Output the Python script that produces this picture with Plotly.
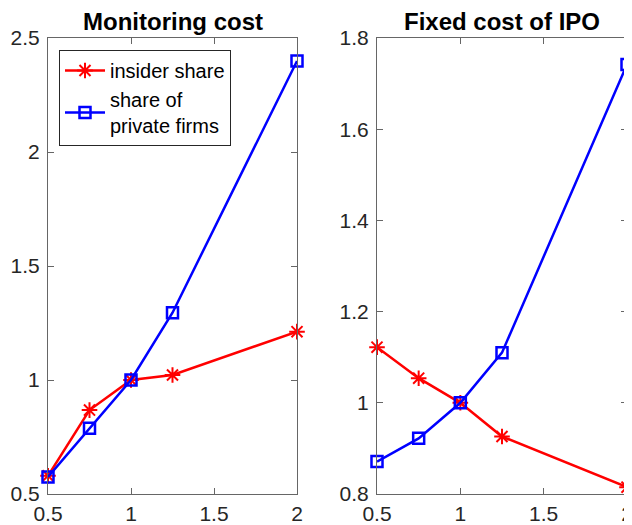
import plotly.graph_objects as go

x_vals = [0.5, 0.75, 1.0, 1.25, 2.0]

mon_insider = [0.58, 0.868, 1.0, 1.022, 1.212]
mon_private = [0.575, 0.788, 1.0, 1.295, 2.399]

ipo_insider = [1.122, 1.054, 1.0, 0.926, 0.815]
ipo_private = [0.871, 0.922, 1.0, 1.110, 1.742]

titles = ["Monitoring cost", "Fixed cost of IPO"]
names = ["insider share", "share of<br>private firms"]

# page has an 8px body margin, so the figure is laid out 8px smaller
OFF = 8
W, H = 632 - OFF, 525 - OFF
FONT = "Liberation Sans, Arial, Helvetica, sans-serif"
RED = "#ff0000"
BLUE = "#0000ff"

# plot-area geometry in figure pixels
L, T = 48 - OFF, 38 - OFF
R = W - (627 - OFF)
B = H - (494 - OFF)
PW = W - L - R
PH = H - T - B
x1d = [0, (297 - 48) / PW]
x2d = [(377 - 48) / PW, 1]

fig = go.Figure()

def add_pair(ins, priv, xa, ya, show):
    fig.add_trace(go.Scatter(
        x=x_vals, y=ins, mode="lines+markers", name=names[0],
        line=dict(color=RED, width=2.5),
        marker=dict(symbol="asterisk-open", size=13, color=RED,
                    line=dict(color=RED, width=2)),
        xaxis=xa, yaxis=ya, showlegend=show, cliponaxis=False))
    fig.add_trace(go.Scatter(
        x=x_vals, y=priv, mode="lines+markers", name=names[1],
        line=dict(color=BLUE, width=2.5),
        marker=dict(symbol="square-open", size=11, color=BLUE,
                    line=dict(color=BLUE, width=2.5)),
        xaxis=xa, yaxis=ya, showlegend=show, cliponaxis=False))

add_pair(mon_insider, mon_private, "x", "y", True)
add_pair(ipo_insider, ipo_private, "x2", "y2", False)

ax_common = dict(
    showgrid=False, zeroline=False, showline=True, linecolor="#666666",
    linewidth=1, mirror="ticks", ticks="inside", ticklen=6,
    tickcolor="#666666", tickwidth=1, automargin=False,
    ticklabeloverflow="allow",
    tickfont=dict(family=FONT, size=21, color="#262626"),
)

fig.update_layout(
    width=W, height=H, autosize=False,
    margin=dict(l=L, r=R, t=T, b=B, pad=0, autoexpand=False),
    paper_bgcolor="white", plot_bgcolor="white",
    font=dict(family=FONT, size=20, color="#262626"),
    xaxis=dict(domain=x1d, range=[0.5, 2], tickvals=[0.5, 1, 1.5, 2],
               anchor="y", ticklabelstandoff=1, **ax_common),
    yaxis=dict(domain=[0, 1], range=[0.5, 2.5], tickvals=[0.5, 1, 1.5, 2, 2.5],
               anchor="x", ticklabelstandoff=3, **ax_common),
    xaxis2=dict(domain=x2d, range=[0.5, 2], tickvals=[0.5, 1, 1.5, 2],
                anchor="y2", ticklabelstandoff=1, **ax_common),
    yaxis2=dict(domain=[0, 1], range=[0.8, 1.8],
                tickvals=[0.8, 1.0, 1.2, 1.4, 1.6, 1.8],
                anchor="x2", ticklabelstandoff=3, **ax_common),
    legend=dict(
        x=(59 - 48) / PW, y=1 - (50 - 38) / PH, xanchor="left", yanchor="top",
        bgcolor="white", bordercolor="#262626", borderwidth=1,
        font=dict(family=FONT, size=20, color="#000000"),
        tracegroupgap=0, itemwidth=40,
    ),
    annotations=[
        dict(text="<b>%s</b>" % titles[0], x=sum(x1d) / 2, y=1,
             xref="paper", yref="paper", xanchor="center", yanchor="bottom",
             showarrow=False, yshift=1,
             font=dict(family=FONT, size=24, color="#000000")),
        dict(text="<b>%s</b>" % titles[1], x=sum(x2d) / 2, y=1,
             xref="paper", yref="paper", xanchor="center", yanchor="bottom",
             showarrow=False, yshift=1,
             font=dict(family=FONT, size=24, color="#000000")),
    ],
)

fig.write_html("out.html")
